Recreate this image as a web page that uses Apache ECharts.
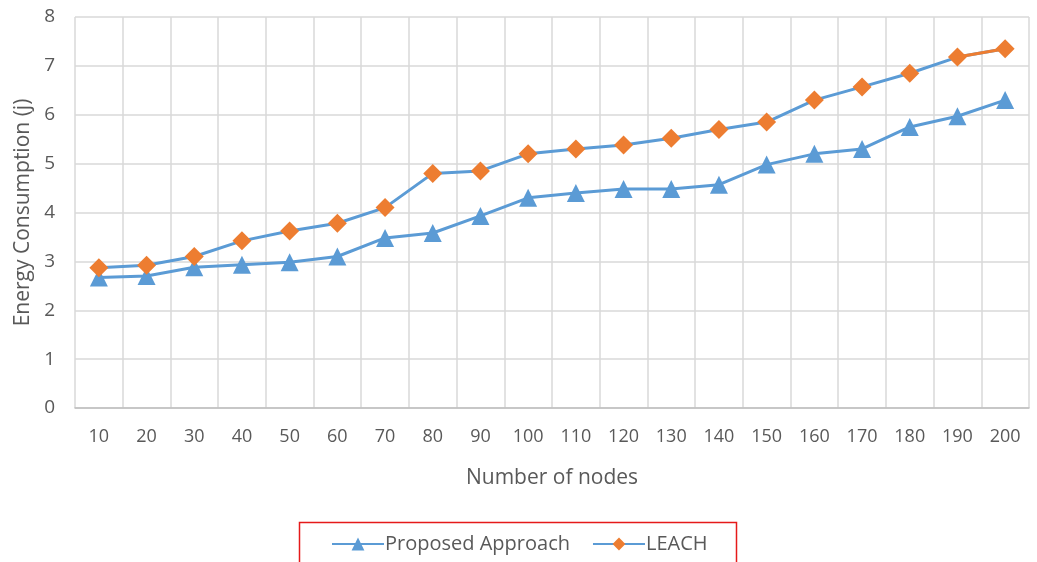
<!DOCTYPE html>
<html><head><meta charset="utf-8">
<script src="https://cdn.jsdelivr.net/npm/echarts@6/dist/echarts.min.js"></script>
<style>html,body{margin:0;padding:0;background:#fff}#c{width:1037px;height:562px}</style>
</head><body><div id="c"></div>
<script>
const categories = ['10','20','30','40','50','60','70','80','90','100','110','120','130','140','150','160','170','180','190','200'];
const proposed = [2.67,2.70,2.88,2.93,2.98,3.10,3.48,3.58,3.93,4.30,4.40,4.48,4.48,4.57,4.98,5.20,5.30,5.75,5.97,6.30];
const leach = [2.87,2.92,3.10,3.42,3.62,3.78,4.10,4.80,4.85,5.20,5.30,5.38,5.52,5.70,5.85,6.30,6.57,6.85,7.18,7.35];
const yTicks = [0,1,2,3,4,5,6,7,8];
const leachTail = leach.map((v,i)=> i >= leach.length-2 ? v : null);

const font = "'Open Sans', 'Noto Sans', sans-serif";
const chart = echarts.init(document.getElementById('c'));
chart.setOption({
  animation:false,
  textStyle:{fontFamily:font},
  grid:{left:75,right:8,top:17,bottom:154},
  xAxis:{type:'category',data:categories,boundaryGap:true,
    axisLine:{lineStyle:{color:'#BFBFBF',width:1.5}},axisTick:{show:false},
    axisLabel:{color:'#595959',fontSize:18,margin:20},
    splitLine:{show:true,lineStyle:{color:'#D9D9D9',width:1.5}},
    name:'Number of nodes',nameLocation:'middle',nameGap:60,
    nameTextStyle:{color:'#595959',fontSize:21}},
  yAxis:{type:'value',min:yTicks[0],max:yTicks[yTicks.length-1],interval:1,
    axisLine:{show:false},axisTick:{show:false},
    axisLabel:{color:'#595959',fontSize:19,margin:20},
    splitLine:{lineStyle:{color:'#D9D9D9',width:1.5}},
    name:'Energy Consumption (j)',nameLocation:'middle',nameGap:38,nameRotate:90,
    nameTextStyle:{color:'#595959',fontSize:21}},
  legend:{left:326,top:529,itemGap:22,itemWidth:52,itemHeight:16,
    textStyle:{color:'#595959',fontSize:20,padding:[0,0,0,-4]},
    data:['Proposed Approach','LEACH']},
  graphic:[{type:'rect',left:297,top:520,shape:{width:437,height:60},
    style:{fill:'none',stroke:'#E51A1A',lineWidth:1.5}}],
  series:[
    {name:'Proposed Approach',type:'line',data:proposed,symbol:'triangle',symbolSize:18,
      lineStyle:{color:'#5B9BD5',width:3},itemStyle:{color:'#5B9BD5'},z:3},
    {name:'LEACH',type:'line',data:leach,symbol:'diamond',symbolSize:19,
      lineStyle:{color:'#5B9BD5',width:3},itemStyle:{color:'#ED7D31'},z:3},
    {name:'tail',type:'line',data:leachTail,symbol:'none',
      lineStyle:{color:'#ED7D31',width:3},z:4,silent:true}
  ]
});
</script></body></html>
